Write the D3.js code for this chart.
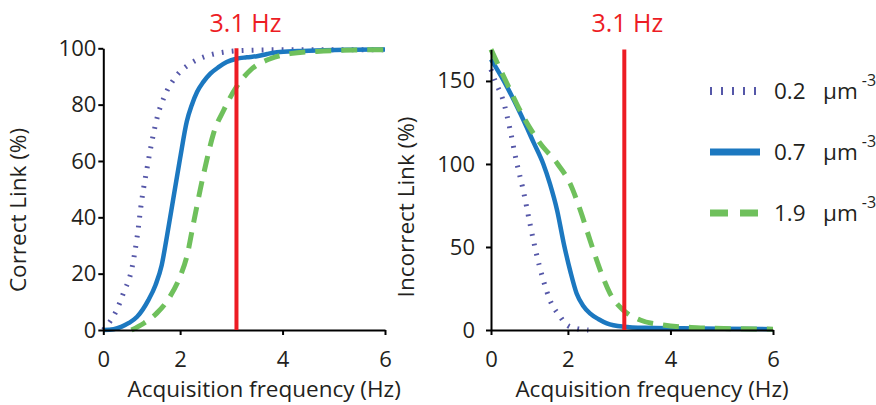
<!DOCTYPE html>
<html>
<head>
<meta charset="utf-8">
<script src="https://cdn.jsdelivr.net/npm/d3@7"></script>
<style>
  body { margin: 0; background: #fff; }
  svg { display: block; }
  text { font-family: "Open Sans", sans-serif; fill: #231f20; }
</style>
</head>
<body>
<svg id="chart" width="876" height="405"></svg>
<script>
// Acquisition frequency (Hz) sampled for each density curve
const correctFreq02 = [0.5, 0.63, 0.76, 0.89, 1.06, 1.16, 1.25, 1.35, 1.45, 1.56, 1.72, 1.92, 2.2, 2.52, 2.85, 3.2, 4, 5, 6];
const correctLink02 = [0, 3, 7, 13, 22, 33, 46, 57, 67, 76, 84, 90, 94.6, 97.3, 98.6, 99.2, 99.5, 99.5, 99.5];

const correctFreq07 = [0.5, 0.7, 0.86, 1.0, 1.16, 1.38, 1.52, 1.64, 1.74, 1.87, 2.0, 2.13, 2.23, 2.33, 2.45, 2.59, 2.75, 2.91, 3.1, 3.3, 3.5, 3.7, 3.89, 4.3, 4.8, 5.4, 6];
const correctLink07 = [0, 0.3, 1.2, 2.5, 4.7, 10.6, 16, 23, 33, 47, 61, 74, 80, 84.5, 88, 91, 93.3, 95.1, 96.3, 96.8, 97.2, 98, 98.6, 99, 99.3, 99.5, 99.6];

const correctFreq19 = [1.05, 1.3, 1.54, 1.8, 2.0, 2.13, 2.26, 2.39, 2.52, 2.65, 2.85, 3.1, 3.37, 3.76, 4.15, 4.8, 5.4, 6];
const correctLink19 = [0, 2.5, 5.9, 11.8, 19, 26, 37.8, 49.6, 60.3, 69.7, 78, 86.3, 92.2, 96.3, 98.1, 99, 99.4, 99.5];

const incorrectFreq02 = [0.5, 0.58, 0.74, 0.87, 1.0, 1.13, 1.26, 1.37, 1.52, 1.65, 1.85, 1.98, 2.15, 2.4];
const incorrectLink02 = [157, 150, 138, 121, 101, 84, 64, 48, 30, 18, 8, 3, 1, 0];

const incorrectFreq07 = [0.5, 0.54, 0.81, 1.07, 1.33, 1.52, 1.65, 1.79, 1.92, 2.05, 2.17, 2.3, 2.43, 2.6, 2.76, 3.08, 3.5, 4.2, 5, 6];
const incorrectLink07 = [163, 161, 146.6, 130.5, 113, 100, 88, 72, 52, 35, 22, 14.5, 10, 6.5, 4, 2, 1.3, 1, 0.7, 0.5];

const incorrectFreq19 = [0.5, 0.81, 1.13, 1.46, 1.8, 2.04, 2.24, 2.43, 2.63, 2.82, 3.08, 3.41, 3.86, 4.51, 5.2, 6];
const incorrectLink19 = [169, 148.6, 128.5, 112.4, 100, 88.4, 72.3, 54.2, 36.1, 22.1, 12, 6, 3, 1.4, 0.8, 0.5];

// Axis ticks and labels
const xTickValues = [0.5, 2, 4, 6];
const xTickLabels = ["0", "2", "4", "6"];
const correctTicks = [0, 20, 40, 60, 80, 100];
const incorrectTicks = [0, 50, 100, 150];

// Densities in the legend and the chosen acquisition frequency
const densityLabels = ["0.2", "0.7", "1.9"];
const cutoffHz = 3.1;

const colors = { d02: "#5557a8", d07: "#1c78c0", d19: "#6fc05c", cutoff: "#ed1c24" };
const styles = [
  { color: colors.d02, width: 5, dash: "1.8 8.2" },
  { color: colors.d07, width: 4.5, dash: null },
  { color: colors.d19, width: 5, dash: "16 10" }
];

const zip = (xs, ys) => xs.map((x, i) => [x, ys[i]]);

const panels = [
  {
    left: 103.3, right: 385, top: 48.3, bottom: 330, yMax: 100,
    yTicks: correctTicks, yPad: 2, yTitle: "Correct Link (%)", yTitleX: 26, yTitleY: 210,
    cutoffTextDx: 9,
    series: [zip(correctFreq02, correctLink02), zip(correctFreq07, correctLink07), zip(correctFreq19, correctLink19)]
  },
  {
    left: 491, right: 773, top: 49.4, bottom: 330, yMax: 169,
    yTicks: incorrectTicks, yPad: 11, yTitle: "Incorrect Link (%)", yTitleX: 414, yTitleY: 207,
    cutoffTextDx: 3,
    series: [zip(incorrectFreq02, incorrectLink02), zip(incorrectFreq07, incorrectLink07), zip(incorrectFreq19, incorrectLink19)]
  }
];

const svg = d3.select("#chart");

panels.forEach(p => {
  const x = d3.scaleLinear().domain([0.5, 6]).range([p.left, p.right]);
  const y = d3.scaleLinear().domain([0, p.yMax]).range([p.bottom, p.top]);
  const g = svg.append("g");

  const line = d3.line().x(d => x(d[0])).y(d => y(d[1])).curve(d3.curveMonotoneX);

  p.series.forEach((s, i) => {
    const st = styles[i];
    g.append("path")
      .attr("d", line(s))
      .attr("fill", "none")
      .attr("stroke", st.color)
      .attr("stroke-width", st.width)
      .attr("stroke-dasharray", st.dash)
      .attr("stroke-linejoin", "round");
  });

  // Axes
  const yAxis = g.append("g")
    .attr("transform", `translate(${p.left},0)`)
    .call(d3.axisLeft(y).tickValues(p.yTicks).tickSize(5).tickSizeOuter(0).tickPadding(p.yPad));
  const xAxis = g.append("g")
    .attr("transform", `translate(0,${p.bottom})`)
    .call(d3.axisBottom(x).tickValues(xTickValues).tickFormat((d, i) => xTickLabels[i])
      .tickSize(5).tickSizeOuter(0).tickPadding(16));
  [yAxis, xAxis].forEach(a => {
    a.selectAll("path, line").attr("stroke", "#000").attr("stroke-width", 2);
    a.selectAll("text").attr("font-size", 22).attr("font-family", "Open Sans, sans-serif").attr("fill", "#231f20");
  });

  // Cutoff frequency marker
  g.append("line")
    .attr("x1", x(cutoffHz)).attr("x2", x(cutoffHz))
    .attr("y1", p.top).attr("y2", p.bottom)
    .attr("stroke", colors.cutoff).attr("stroke-width", 4);
  g.append("text")
    .attr("x", x(cutoffHz) + p.cutoffTextDx).attr("y", 32)
    .attr("text-anchor", "middle")
    .attr("font-size", 25)
    .style("fill", colors.cutoff)
    .text(`${cutoffHz} Hz`);

  // Axis titles
  g.append("text")
    .attr("transform", `translate(${p.yTitleX},${p.yTitleY}) rotate(-90)`)
    .attr("text-anchor", "middle")
    .attr("font-size", 22.5)
    .text(p.yTitle);
  g.append("text")
    .attr("x", (p.left + p.right) / 2 + 20).attr("y", 397)
    .attr("text-anchor", "middle")
    .attr("font-size", 22.5)
    .text("Acquisition frequency (Hz)");
});

// Legend
const legend = svg.append("g");
densityLabels.forEach((lab, i) => {
  const cy = 91 + i * 61;
  const st = styles[i];
  legend.append("line")
    .attr("x1", 710).attr("x2", 760).attr("y1", cy).attr("y2", cy)
    .attr("stroke", st.color)
    .attr("stroke-width", i === 0 ? 8 : 7)
    .attr("stroke-dasharray", i === 0 ? "2 9" : (i === 2 ? "18 12" : null));
  const t = legend.append("text").attr("x", 774).attr("y", cy + 8).attr("font-size", 22.5);
  t.append("tspan").text(lab);
  t.append("tspan").attr("x", 823).text("μm");
  t.append("tspan").attr("dx", 4).attr("dy", -13).attr("font-size", 16).text("-3");
});
</script>
</body>
</html>
